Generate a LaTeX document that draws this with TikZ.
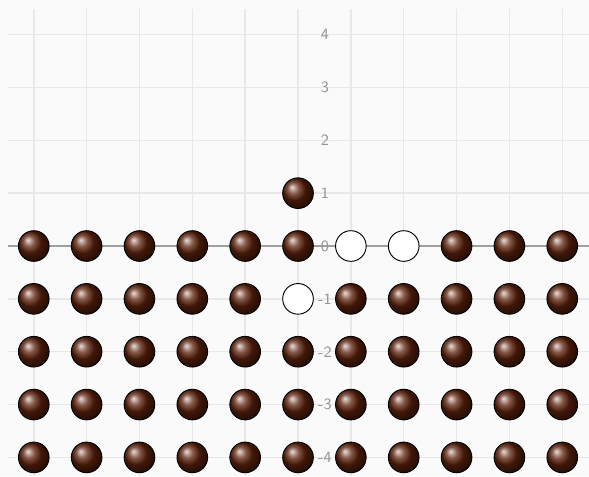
\documentclass[tikz,border=0pt]{standalone}
\usepackage{tikz}
\usetikzlibrary{shadings}
\definecolor{PaperBg}  {HTML}{FAFAFA}
\definecolor{GridGray} {HTML}{E8E8E8}
\definecolor{AxisGray} {HTML}{A0A0A0}
\definecolor{TickGray} {HTML}{959595}
\definecolor{Chestnut} {HTML}{5E220C}

\begin{document}
\begin{tikzpicture}[
  x=1cm, y=1cm,
  grid/.style   = {draw=GridGray, line width=0.8pt},
  axis/.style   = {draw=AxisGray, line width=0.8pt},
  tick/.style   = {font=\fontsize{8.5}{10}\sffamily, text=TickGray, inner sep=0pt},
  bead/.style   = {circle, draw=black, line width=0.5pt, minimum size=0.58cm,
                   inner sep=0pt, shading=ball, ball color=Chestnut},
  hole/.style   = {circle, draw=black, line width=0.5pt, minimum size=0.58cm,
                   inner sep=0pt, fill=white},
]
% canvas
\fill[PaperBg] (-5.639,-4.352) rectangle (5.506,4.655);
\useasboundingbox (-5.639,-4.352) rectangle (5.506,4.655);

% grid
\foreach \i in {-5,...,5}
  \draw[grid] (\i,4.485) -- (\i,-4.352);
\foreach \j in {-4,...,4}
  \draw[grid] (-5.487,\j) -- (5.506,\j);

% horizontal axis
\coordinate (axl) at (-5.487,0);
\coordinate (axr) at (5.506,0);
\draw[axis] (axl) -- (axr);

% tick labels
\foreach \j in {-4,...,4}
  \node[tick] (t\j) at (0.51,\j) {\j};

% beads in the lower half
\foreach \i in {-5,...,5}
  \foreach \j in {0,-1,-2,-3,-4} {
    \ifnum\i=1 \ifnum\j=0 \else \node[bead] (b\i\j) at (\i,\j) {}; \fi
    \else\ifnum\i=2 \ifnum\j=0 \else \node[bead] (b\i\j) at (\i,\j) {}; \fi
    \else\ifnum\i=0 \ifnum\j=-1 \else \node[bead] (b\i\j) at (\i,\j) {}; \fi
    \else \node[bead] (b\i\j) at (\i,\j) {};
    \fi\fi\fi
  }

% jumped bead and empty holes
\node[bead] (jump) at (0,1)  {};
\node[hole] (h1)   at (1,0)  {};
\node[hole] (h2)   at (2,0)  {};
\node[hole] (h3)   at (0,-1) {};
\end{tikzpicture}
\end{document}
